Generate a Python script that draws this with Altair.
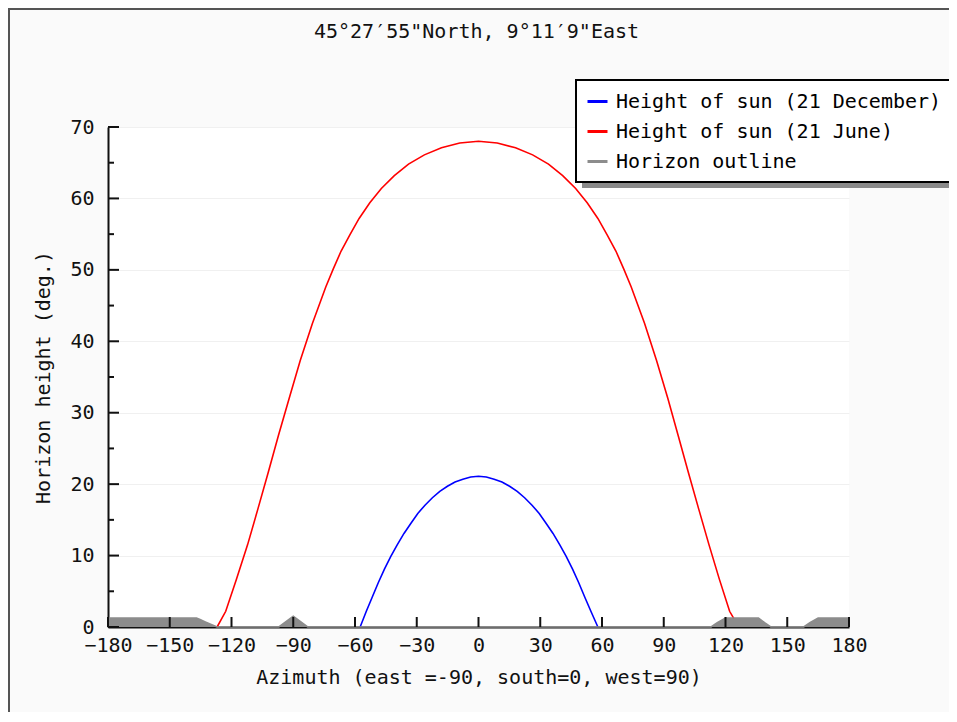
import altair as alt
import pandas as pd

FONT = "DejaVu Sans Mono"
TITLE = "45°27′55\"North, 9°11′9\"East"

# Sun path, 21 December (azimuth, height)
dec_az = [-57.5, -54.5, -51.6, -48.7, -45.7, -42.6, -39.5, -36.2, -32.9, -29.5,
          -26.0, -22.4, -18.8, -15.1, -11.4, -7.6, -3.8, 0.0,
          3.8, 7.6, 11.4, 15.1, 18.8, 22.4, 26.0, 29.5, 32.9, 36.2, 39.5,
          42.6, 45.7, 48.7, 51.6, 54.6, 58.0]
dec_h = [0.0, 2.2, 4.2, 6.2, 8.1, 9.9, 11.5, 13.1, 14.5, 15.9,
         17.05, 18.1, 19.0, 19.7, 20.3, 20.7, 21.0, 21.1,
         21.0, 20.7, 20.3, 19.7, 19.0, 18.1, 17.05, 15.9, 14.5, 13.1, 11.5,
         9.9, 8.1, 6.2, 4.2, 2.2, 0.0]

# Sun path, 21 June
jun_az = [-127.0, -122.8, -117.6, -112.2, -107.2, -102.2, -97.2, -92.0, -86.6,
          -80.7, -74.2, -70.6, -66.8, -62.5, -58.0, -52.8, -47.2, -40.9, -34.0,
          -26.3, -18.0, -9.1, 0.0, 9.1, 18.0, 26.3, 34.0, 40.9, 47.2, 52.8,
          58.0, 62.5, 66.8, 70.6, 74.2, 80.7, 86.5, 92.0, 97.0, 102.0, 107.0,
          112.0, 117.0, 122.0, 124.0]
jun_h = [0.0, 2.2, 6.7, 11.5, 16.5, 21.6, 26.8, 32.0, 37.3,
         42.5, 47.6, 50.1, 52.6, 54.9, 57.2, 59.4, 61.4, 63.2, 64.8,
         66.1, 67.1, 67.75, 68.0, 67.75, 67.1, 66.1, 64.8, 63.2, 61.4, 59.4,
         57.2, 54.9, 52.6, 50.1, 47.6, 42.5, 37.3, 32.0, 26.8, 21.6, 16.5,
         11.5, 6.7, 2.2, 1.2]

# Horizon outline
hor_az = [-180, -137, -135, -133, -131, -129, -127, -97, -90, -83,
          113, 116, 120, 136, 139, 142, 158, 161, 165, 180]
hor_h = [1.25, 1.25, 1.0, 0.75, 0.5, 0.25, 0.0, 0.0, 1.5, 0.0,
         0.0, 0.6, 1.25, 1.25, 0.6, 0.0, 0.0, 0.6, 1.25, 1.25]

series_names = ["Height of sun (21 December)", "Height of sun (21 June)", "Horizon outline"]
series_colors = ["#0000ff", "#ff0000", "#8c8c8c"]

x_ticks = [-180, -150, -120, -90, -60, -30, 0, 30, 60, 90, 120, 150, 180]
y_major = [0, 10, 20, 30, 40, 50, 60, 70]
y_minor = [5, 15, 25, 35, 45, 55, 65]

rows = []
for a, h in zip(dec_az, dec_h):
    rows.append({"az": a, "h": h, "series": series_names[0]})
for a, h in zip(jun_az, jun_h):
    rows.append({"az": a, "h": h, "series": series_names[1]})
for a, h in zip(hor_az, hor_h):
    rows.append({"az": a, "h": h, "series": series_names[2]})
df = pd.DataFrame(rows)
hor_df = pd.DataFrame({"az": hor_az, "h": hor_h})

xscale = alt.Scale(domain=[-180, 180], nice=False, zero=False)
yscale = alt.Scale(domain=[0, 70], nice=False)

x_axis = alt.Axis(values=x_ticks, title="Azimuth (east =-90, south=0, west=90)",
                  grid=False, ticks=False, labelPadding=8, titlePadding=12)
y_axis = alt.Axis(values=y_major, title="Horizon height (deg.)",
                  grid=True, ticks=False, labelPadding=14, titlePadding=16)

area = alt.Chart(hor_df).mark_area(color="#8c8c8c", opacity=1).encode(
    x=alt.X("az:Q", scale=xscale, axis=x_axis),
    y=alt.Y("h:Q", scale=yscale, axis=y_axis),
)

lines = alt.Chart(df).mark_line(strokeWidth=1.6).encode(
    x=alt.X("az:Q", scale=xscale),
    y=alt.Y("h:Q", scale=yscale),
    color=alt.Color("series:N",
                    scale=alt.Scale(domain=series_names, range=series_colors),
                    sort=series_names,
                    legend=alt.Legend(orient="none", legendX=468, legendY=-47,
                                      title=None, symbolType="stroke",
                                      symbolSize=400, symbolStrokeWidth=3,
                                      labelFont=FONT, labelFontSize=20,
                                      labelColor="black", labelOffset=7,
                                      rowPadding=8, padding=10,
                                      strokeColor="black", fillColor="white",
                                      labelLimit=0)),
)

xt = alt.Chart(pd.DataFrame({"t": x_ticks})).mark_rule(color="#111", strokeWidth=2).encode(
    x=alt.X("t:Q", scale=xscale), y=alt.value(500), y2=alt.value(490))
ytm = alt.Chart(pd.DataFrame({"t": y_major})).mark_rule(color="#111", strokeWidth=2).encode(
    y=alt.Y("t:Q", scale=yscale), x=alt.value(0), x2=alt.value(11))
ytn = alt.Chart(pd.DataFrame({"t": y_minor})).mark_rule(color="#111", strokeWidth=2).encode(
    y=alt.Y("t:Q", scale=yscale), x=alt.value(0), x2=alt.value(6))

shadow = alt.Chart(pd.DataFrame({"a": [0]})).mark_rect(color="#8a8a8a").encode(
    x=alt.value(474), x2=alt.value(900), y=alt.value(-41), y2=alt.value(61))

border_l = alt.Chart(pd.DataFrame({"a": [0]})).mark_rule(color="#555", strokeWidth=2).encode(
    x=alt.value(-99), y=alt.value(-119), y2=alt.value(620))
border_t = alt.Chart(pd.DataFrame({"a": [0]})).mark_rule(color="#555", strokeWidth=2).encode(
    y=alt.value(-118), x=alt.value(-100), x2=alt.value(900))

title = alt.Chart(pd.DataFrame({"t": [TITLE]})).mark_text(
    font=FONT, fontSize=20, color="#111", align="center", baseline="middle"
).encode(text="t:N", x=alt.value(368.5), y=alt.value(-95))

chart = alt.layer(border_l, border_t, area, lines, xt, ytm, ytn, shadow, title).properties(
    width=741, height=500,
    autosize=alt.AutoSizeParams(type="none"),
    padding={"left": 100, "top": 119, "right": 100, "bottom": 85},
    background="#fafafa",
).configure_view(fill="white", stroke=None).configure_axis(
    labelFont=FONT, labelFontSize=20, labelColor="#111",
    titleFont=FONT, titleFontSize=20, titleFontWeight="normal", titleColor="#111",
    domainColor="#111", domainWidth=2, gridColor="#f0f0f0", gridWidth=1,
    labelFlush=False,
).configure_legend(strokeWidth=2)

chart.save("out.html", embed_options={"renderer": "svg", "actions": False})
